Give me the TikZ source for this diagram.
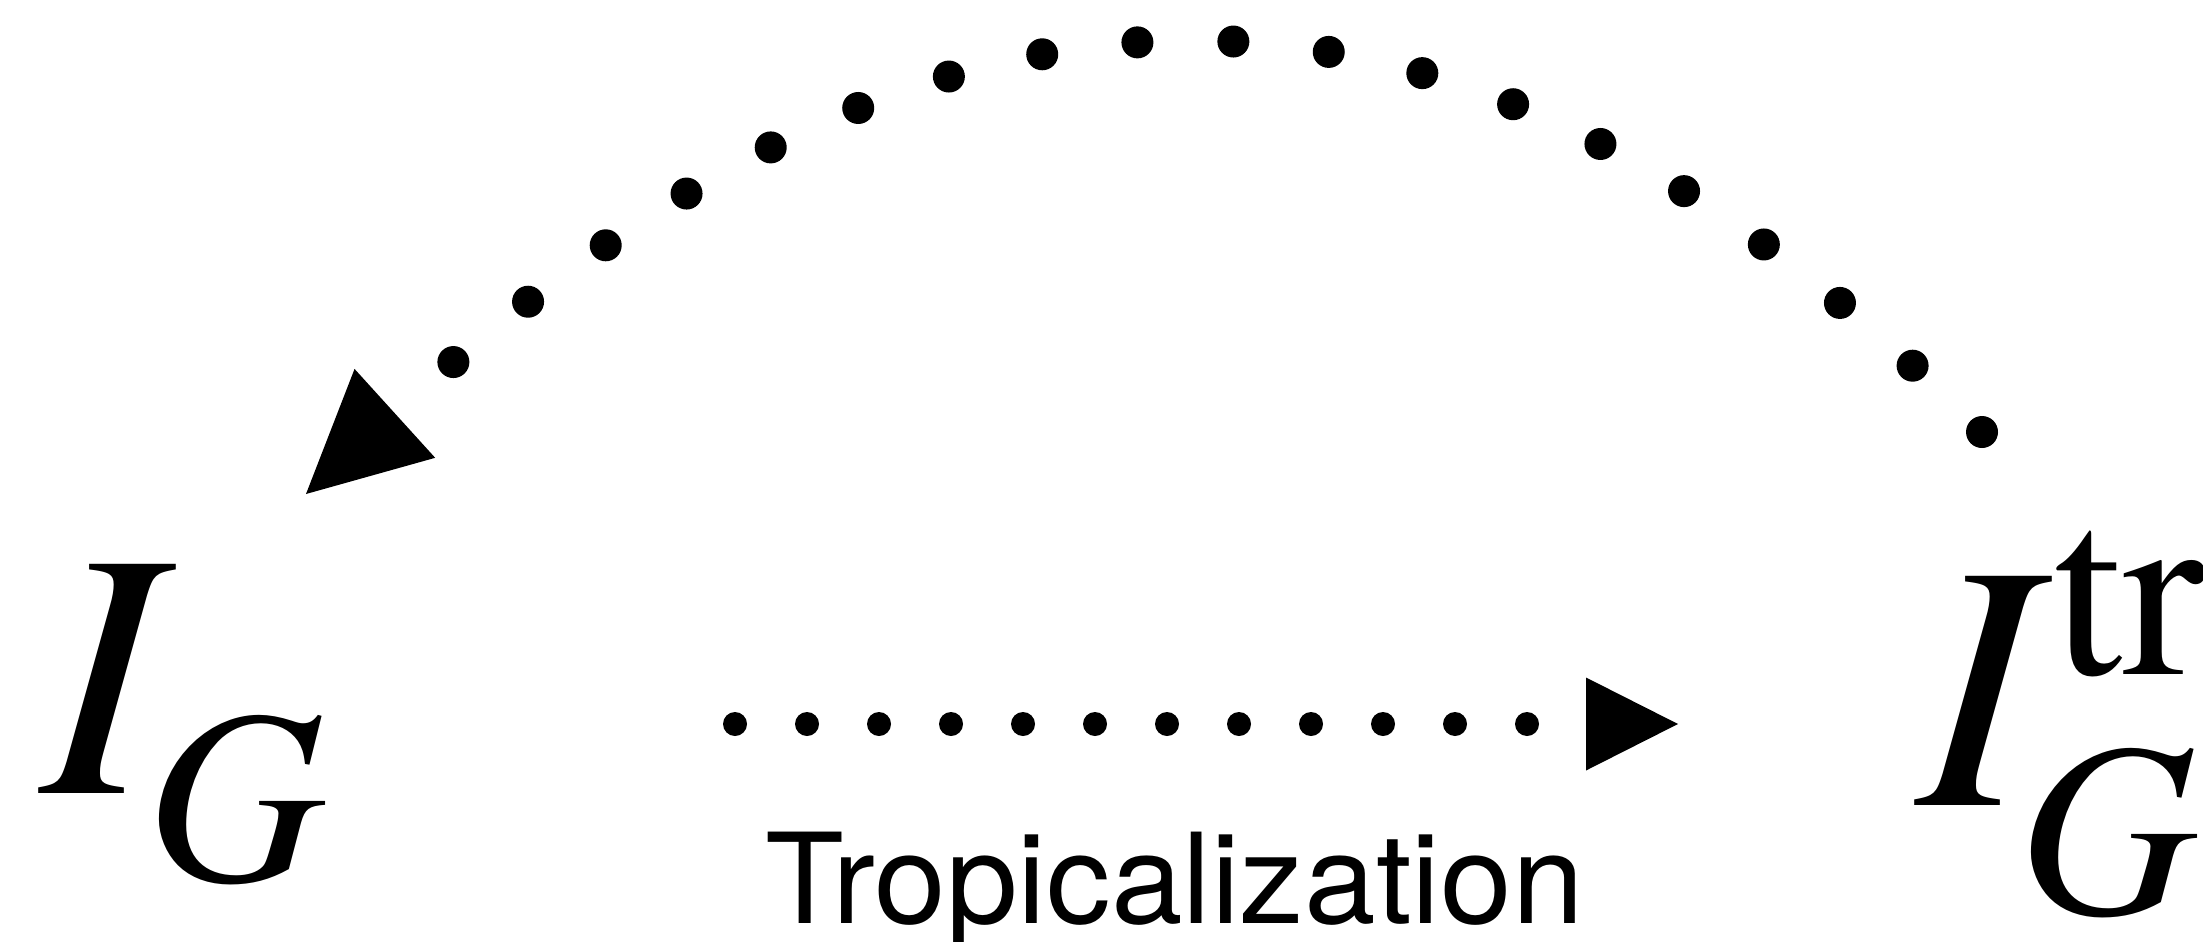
\documentclass[tikz,border=0pt]{standalone}
\usepackage{fontspec}
\usepackage{graphicx}
\setmainfont{TeX Gyre Termes}
\newfontfamily\heros{TeX Gyre Heros}
\usetikzlibrary{arrows.meta}
\tikzset{
  lbl/.style={inner sep=0pt, outer sep=0pt, anchor=base west},
  hdots/.style={line width=24pt, line cap=round, dash pattern=on 0pt off 72pt,
    -{Triangle[length=92pt,width=93pt,line width=0pt]}},
  adots/.style={line width=32pt, line cap=round, dash pattern=on 0pt off 96pt,
    -{Triangle[length=120pt,width=120pt,line width=0pt]}},
}
\newcommand{\bigI}{{\fontsize{351pt}{351pt}\selectfont\itshape I}}
\newcommand{\smallsz}{\fontsize{248pt}{248pt}\selectfont}
\begin{document}
\begin{tikzpicture}[x=1pt,y=-1pt]
\useasboundingbox (0,0) rectangle (2203,942);
% labels
\node[lbl] (IG) at (41,793) {\bigI\kern-11pt\raisebox{-87.5pt}{\smallsz\itshape G}};
\node[lbl] (IGtr) at (1917,805) {\bigI\kern20pt\rlap{\raisebox{131pt}{\smallsz tr}}\kern-35pt\raisebox{-108.5pt}{\smallsz\itshape G}};
\node[lbl] (trop) at (765,923) {\scalebox{1.028}[1]{\fontsize{125.4pt}{125.4pt}\selectfont\heros Tropicalization}};
% connector ends
\coordinate (hs) at (735,724);
\coordinate (he) at (1678,724);
\coordinate (cs) at (1982,432);
\coordinate (ce) at (306,494);
% connectors
\draw[hdots] (hs) -- (he);
\draw[adots] (cs) .. controls (1412,-138) and (888,-34) .. (ce);
\end{tikzpicture}
\end{document}
